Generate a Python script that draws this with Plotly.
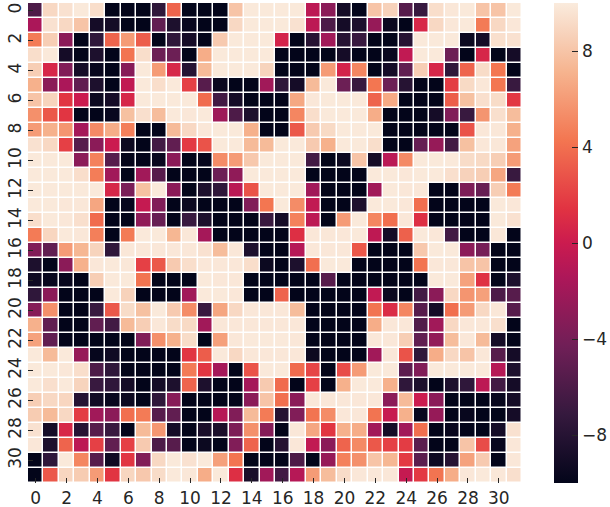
import plotly.graph_objects as go

row_00 = [-6,9,9.5,9.9,9.3,-10,-10,-10,-7.5,3.5,-10,-10,-10,8,9.9,9.9,9.9,9.9,-0.7,-3,-9,-10,8,8.7,-5.5,-7,9.3,9.8,9.9,8,8,9.9]
row_01 = [-1.5,9.5,9,8,-9,-9,-10,-10,-5,-8.5,-9.7,-10,-10,9,9.9,9.9,9.9,9.5,-0.7,-6,-9,-8.5,-2.5,-9.5,-10,0.8,9,9.8,9.9,4.5,9,9.8]
row_02 = [4.5,8.5,-3,-10,-7.5,3.5,6,3.2,-10,-7.5,-9,-10,8.3,9.9,9.9,9.9,0.5,-10,-8,-2,-8,-7,-10,-10,-8,9.9,9.9,9.9,-9.5,-9,9.4,9.5]
row_03 = [9.3,9.9,-9,-10,-8.5,-10,4.2,9.3,-4.5,-4.5,-10,6.8,9.9,9.9,9.9,9.9,-10,-10,-10,-10,-9,-10,-10,-9.6,-0.5,9.9,9.9,-4.5,-10,0.7,-10,-9]
row_04 = [8.5,0.7,-3.5,-9,-9.7,-10,-3.2,9.9,6,0.7,-8,7.5,9.9,9.9,9.9,8.8,-10,-10,-10,6,0.5,5,-10,-9,-5,8.5,0.7,-7.5,3.5,9.2,4.3,-10]
row_05 = [7,-3,-1.5,-5,-8.5,-10,-0.5,9.9,9.3,9.9,2,-5.5,-9.5,-10,-10,-2,-7.5,-9,7.5,9.9,-4.5,-7,4.3,-4.5,-8,-10,-10,1.8,9.1,9.8,4.3,-7]
row_06 = [8,8.8,1.5,0,-9.5,-9,0.7,9.9,9.9,9.9,9.9,3.8,-6.5,-9,-10,-10,-10,6.6,9.8,9.9,9.9,9.9,3.5,6.7,-10,-10,-10,3.2,7.8,9.4,9.2,1.6]
row_07 = [5.5,3,1.5,-10,-10,-9.7,7.8,9.4,7.6,9.9,9.8,9.9,-2.2,-6,-8.5,-10,-10,5,9.3,9.9,9.9,9.9,6.8,-10,-10,-10,-9,-3.5,-7,5.7,9.4,7.6]
row_08 = [6,7,5.7,-1.8,5.2,6.8,4.7,-10,-10,7.5,9,9.8,9.9,9.9,7,-10,-10,3,8.3,9.1,9.9,9.9,9.9,-10,-10,-10,-10,-10,2.8,9.8,9.8,7]
row_09 = [9.5,9,2,-5.5,-3,0,-9.5,-10,-6.5,-5,1.7,2.8,9.9,9.9,7.5,7.5,9.9,9.9,8.3,7,9.9,9.9,9.3,-10,-10,-4.8,-2.5,-6.5,7.8,9.8,9.8,6.3]
row_10 = [9.9,9.9,9.9,-3,4.8,-5.5,-10,-10,-9.7,-3,-10,-9.8,5.3,6,8.2,9.9,9.9,9.9,-6.5,-10,-9.5,8,-9,-0.8,5.2,9.9,9.9,9.9,9.2,9.1,8.5,6]
row_11 = [9.9,9.9,9.9,9.3,4.6,-2,-10,-2,-5.5,-10,-10,-10,-4.5,-2.8,9.9,9.9,9.9,9.9,-10,-10,-10,-10,9.9,9.9,9.8,9.9,9.9,9.4,8.7,8.5,6.5,-7]
row_12 = [9.9,9.9,9.9,9.9,9.9,0.7,-3.8,7.8,9.9,-3,-10,-8.5,-7.5,-0.8,2.8,9.9,9.9,9.9,-2,-10,-10,-10,-2,9.9,9.8,9.8,-10,-10,-3.7,-4.7,8.5,4.5]
row_13 = [9.9,9.9,9.8,9.8,6.5,-10,-9.8,-0.3,-3.5,-10,-9.5,-10,-10,-10,-3.5,4.3,9.9,5.3,-0.5,-10,-10,-8.5,9.9,9.9,9.8,4,-10,-10,-10,-10,9.9,9.8]
row_14 = [9.3,9.9,9.8,9.4,3.8,-10,-10,-2.8,-4.7,-10,-7,-8.5,-10,-10,-10,-7,-9,4.8,-0.7,-10,6,9.9,5,4,9.8,1.2,-10,-10,-10,-10,9.9,9.5]
row_15 = [4.5,8.9,9.9,9.8,4.7,-10,4.5,9.9,9.9,7.3,9.8,-1.8,-10,-10,-10,-10,-10,1.2,9.8,9.8,9.8,9.9,-0.6,-9,3.4,9.9,9.8,-6.5,-10,-10,9.8,-10]
row_16 = [-3.5,-5,6,7.3,8.8,-7.5,9.8,9.8,9.8,9.8,9.8,9.5,7.6,9.8,-8.5,-10,-10,-1,9.8,9.8,9.8,3,-10,-10,-10,8.2,9.9,9.9,-3,-4,-10,-10]
row_17 = [-8.5,-10,-3,7,9.8,9.9,9.8,2,3,8.3,9.3,9.8,9.8,9.8,9.3,-9.5,-10,-8.5,4,9.9,9.9,-10,-10,-10,-10,4.2,9.8,9.8,8,8,-10,-10]
row_18 = [-9.3,-9.7,-9.7,-10,8.5,9.9,9.9,4.2,-10,-10,-10,9.9,9.8,9.8,-10,-10,-10,-10,-10,-5.5,-10,-10,-10,-10,-10,-10,9.9,9.9,6.3,1.3,-10,-8.5]
row_19 = [-7.5,-3,-10,-10,-10,9.9,8.7,-10,-10,-10,-2,9.9,9.9,9.8,-10,-10,3.5,-10,-10,-10,-10,-10,-0.5,-9.5,-10,-6.5,-3,9,5.7,6.2,-6,-5.5]
row_20 = [-3.3,5.5,-10,-10,-7,3,9.2,7.8,9.9,8.3,5.3,-7,6.5,9,9.8,9.8,9.8,7.6,-10,-10,-10,-10,4.2,1,5,-5.5,-9,4,6,9,9.8,-5.5]
row_21 = [7,-5,-10,-10,-5,-6.5,7.5,8.5,9.8,9.2,9.1,-2,9.8,9.8,9.8,9.8,9.8,9.8,-10,-10,-10,-10,6.8,9.8,9.8,-5.8,-2,9,9.8,9.8,9.4,-10]
row_22 = [6.3,-5,-10,-10,-10,-10,-10,-3.5,5.5,7,9.2,-10,6.2,9.8,9.9,9.9,9.9,9.8,-10,-10,-10,-10,9.8,9.8,8.5,-5,-2.7,7.6,9.8,7.5,-9,-10]
row_23 = [9.9,7.5,9.9,-2.5,-9.8,-9.3,-10,-10,-10,-10,1.5,3.2,9.9,9,9.8,9.8,9.8,9.8,-9.5,-10,-10,-10,-2,9.8,2.8,-7.5,6.8,9,8,9.8,-5.5,-9]
row_24 = [9.9,9.9,9.8,9.3,-6,-7.5,-10,-10,-10,-10,4.5,1.5,-1.8,-10,2.8,9.9,9.9,3.8,2.2,-10,2.5,6,9.9,9.9,-5.2,-3.5,9.9,9.9,9.9,9.9,-1,-8.5]
row_25 = [9.9,9.4,9.9,8.8,-7,-7.5,-9,-10,-9,-8.5,3.5,-8.5,-10,-10,-1.8,8.3,3.8,-10,2,-10,7,9.9,9.9,7,-7.5,-8.5,-10,-8.5,-7.5,-0.7,-6.5,-9]
row_26 = [8.5,9,8.9,-8,-9.2,-9.7,-9.5,-10,-7.5,-3.2,-10,-10,-10,-10,-3,8,4,-3,9.8,9.8,9.8,9.8,9.8,-3,7.5,0,-3,-10,-10,-10,-9.7,-9]
row_27 = [8.4,7.5,9,1.8,-2,-3,4,4.5,-5.5,-5,-10,-10,-1,-3.5,7.5,4.5,-8,-3.5,4.2,5.3,9.8,9.8,4.2,-0.2,7,-9.7,-2.5,-10,-9.7,-10,-10,-9]
row_28 = [9.5,-9,0.8,-8,-5.5,-7,-10,7.5,5.8,-9,-10,-8.7,-8.7,-3.7,5.5,-3.3,-10,9.8,6.5,1.5,7,6.8,-2,-9,-2,4,-10,-9.7,-10,-10,-9,9.5]
row_29 = [9.8,-8.5,3.5,-0.7,2,-5,2,8.3,-6,-5.5,-10,-9.5,-10,-3.5,3.5,-10,-8,9.8,-0.5,-3,3.5,5.2,3,2,1.8,-5.3,-10,-10,8,2.5,-9.7,9.8]
row_30 = [-10,-7.5,9.9,5,-5.5,-9.3,1.5,-3.5,9,9.9,9.5,9.9,6.2,4.2,-10,-10,-10,-6,-10,-2.5,4.8,5.5,8,7.3,1.7,-5.3,-9.4,-8,6.3,8.3,-10,9.8]
row_31 = [-10,3,8.9,8.4,6,1.5,8.9,8.2,9.2,9.9,9.8,6.8,9.9,1.2,-8.7,-2,-6.5,-1,6,7.6,9.2,9.8,9.8,9.8,-0.3,1.7,4.2,6.8,9.8,9.9,9.8,9.4]

rows = [row_00,row_01,row_02,row_03,row_04,row_05,row_06,row_07,
        row_08,row_09,row_10,row_11,row_12,row_13,row_14,row_15,
        row_16,row_17,row_18,row_19,row_20,row_21,row_22,row_23,
        row_24,row_25,row_26,row_27,row_28,row_29,row_30,row_31]
categories = list(range(32))
axis_ticks = list(range(0, 32, 2))
colorbar_ticks = [-8, -4, 0, 4, 8]
colorbar_labels = ["−8", "−4", "0", "4", "8"]

W, H = 660, 507
L, R, T, B = 28, 522, 3, 483
FONT = dict(family="DejaVu Sans", size=17, color="#262626")
rocket = [[0, "#03051a"], [1/7, "#35193e"], [2/7, "#701f57"], [3/7, "#ad1759"],
          [0.5, "#cb1b4f"], [4/7, "#e13342"], [5/7, "#f37651"], [6/7, "#f6b48f"],
          [0.93, "#f7d0b8"], [1, "#faebdd"]]

fig = go.Figure(go.Heatmap(
    z=rows, x=categories, y=categories, zmin=-10, zmax=10, colorscale=rocket,
    xgap=1.5, ygap=1.5,
    colorbar=dict(
        x=554/W, xanchor="left", xref="paper", thicknessmode="pixels", thickness=24,
        lenmode="pixels", len=B-T, y=1-T/H, yanchor="top", yref="paper",
        outlinewidth=0, borderwidth=0, xpad=0, ypad=0,
        tickmode="array", tickvals=colorbar_ticks, ticktext=colorbar_labels,
        ticks="inside", ticklen=6, tickwidth=1, tickcolor="#262626", tickfont=FONT,
    ),
))
common = dict(tickmode="array", tickvals=axis_ticks, ticks="inside", ticklen=5, tickwidth=1,
              tickcolor="#262626", tickfont=FONT, showgrid=False, zeroline=False,
              showline=False, layer="above traces")
fig.update_xaxes(domain=[L/W, R/W], range=[-0.5, 31.5], tickangle=0, ticklabelstandoff=3, **common)
fig.update_yaxes(domain=[1-B/H, 1-T/H], range=[31.5, -0.5], tickangle=-90, ticklabelstandoff=3, **common)
fig.update_layout(width=W, height=H, margin=dict(l=0, r=0, t=0, b=0),
                  paper_bgcolor="white", plot_bgcolor="white", font=FONT)
fig.write_html("out.html", config=dict(displayModeBar=False),
               post_script="document.body.style.margin='0';document.documentElement.style.overflow='hidden';")
